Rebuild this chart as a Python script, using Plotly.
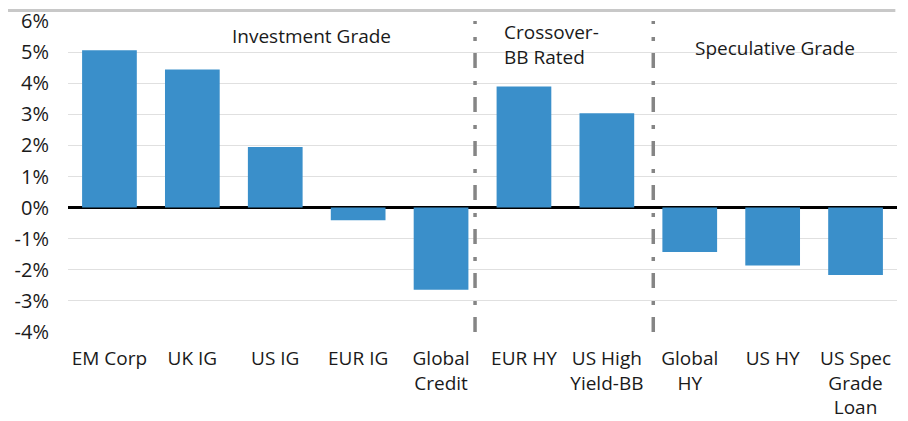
import plotly.graph_objects as go

categories = ["EM Corp", "UK IG", "US IG", "EUR IG", "Global<br>Credit",
              "EUR HY", "US High<br>Yield-BB", "Global<br>HY", "US HY",
              "US Spec<br>Grade<br>Loan"]
values = [5.06, 4.44, 1.95, -0.41, -2.64, 3.89, 3.03, -1.43, -1.86, -2.17]
y_ticks = [-4, -3, -2, -1, 0, 1, 2, 3, 4, 5, 6]
y_labels = [f"{v}%" for v in y_ticks]
section_labels = ["Investment Grade", "Crossover-<br>BB Rated", "Speculative Grade"]
divider_positions = [4.41, 6.56]

FONT = "Open Sans"
TXT = "#1a1a1a"

x_idx = list(range(len(categories)))
fig = go.Figure(go.Bar(x=x_idx, y=values, marker_color="#3A8FCA",
                       marker_line_width=0, width=0.66))

fig.update_layout(
    width=908, height=421,
    margin=dict(l=60, r=19, t=13, b=97, autoexpand=False),
    paper_bgcolor="white", plot_bgcolor="white",
    showlegend=False,
    font=dict(family=FONT, size=19, color=TXT),
    xaxis=dict(tickmode="array", tickvals=x_idx, ticktext=categories,
               range=[-0.5, len(categories) - 0.5], showgrid=False,
               zeroline=False, showline=False, ticks="", automargin=False,
               ticklabelstandoff=13,
               tickfont=dict(size=19, color=TXT)),
    yaxis=dict(range=[-4.0001, 6.0001], tickmode="array", tickvals=y_ticks,
               ticktext=y_labels, ticklabeloverflow="allow",
               showgrid=True, gridcolor="#e0e0e0", gridwidth=1,
               zeroline=True, zerolinecolor="black", zerolinewidth=2.5,
               showline=False, ticks="", ticklabelstandoff=18, automargin=False,
               tickfont=dict(size=20, color=TXT)),
)

# top border line
fig.add_shape(type="line", xref="paper", yref="paper", layer="above",
              x0=-0.08, x1=0.998, y0=1.034, y1=1.034,
              line=dict(color="#c8c8c8", width=3))

for xp in divider_positions:
    fig.add_shape(type="line", xref="x", yref="y", x0=xp, x1=xp, y0=-4, y1=6,
                  line=dict(color="#858585", width=3.5, dash="15px,12px,4px,13px"))

fig.add_annotation(x=2.44, y=5.52, xref="x", yref="y", text=section_labels[0],
                   showarrow=False, font=dict(size=19, color=TXT))
fig.add_annotation(x=4.74, y=5.25, xref="x", yref="y", text=section_labels[1],
                   showarrow=False, xanchor="left", align="left",
                   font=dict(size=19, color=TXT))
fig.add_annotation(x=8.03, y=5.13, xref="x", yref="y", text=section_labels[2],
                   showarrow=False, font=dict(size=19, color=TXT))

fig.write_html("out.html")
